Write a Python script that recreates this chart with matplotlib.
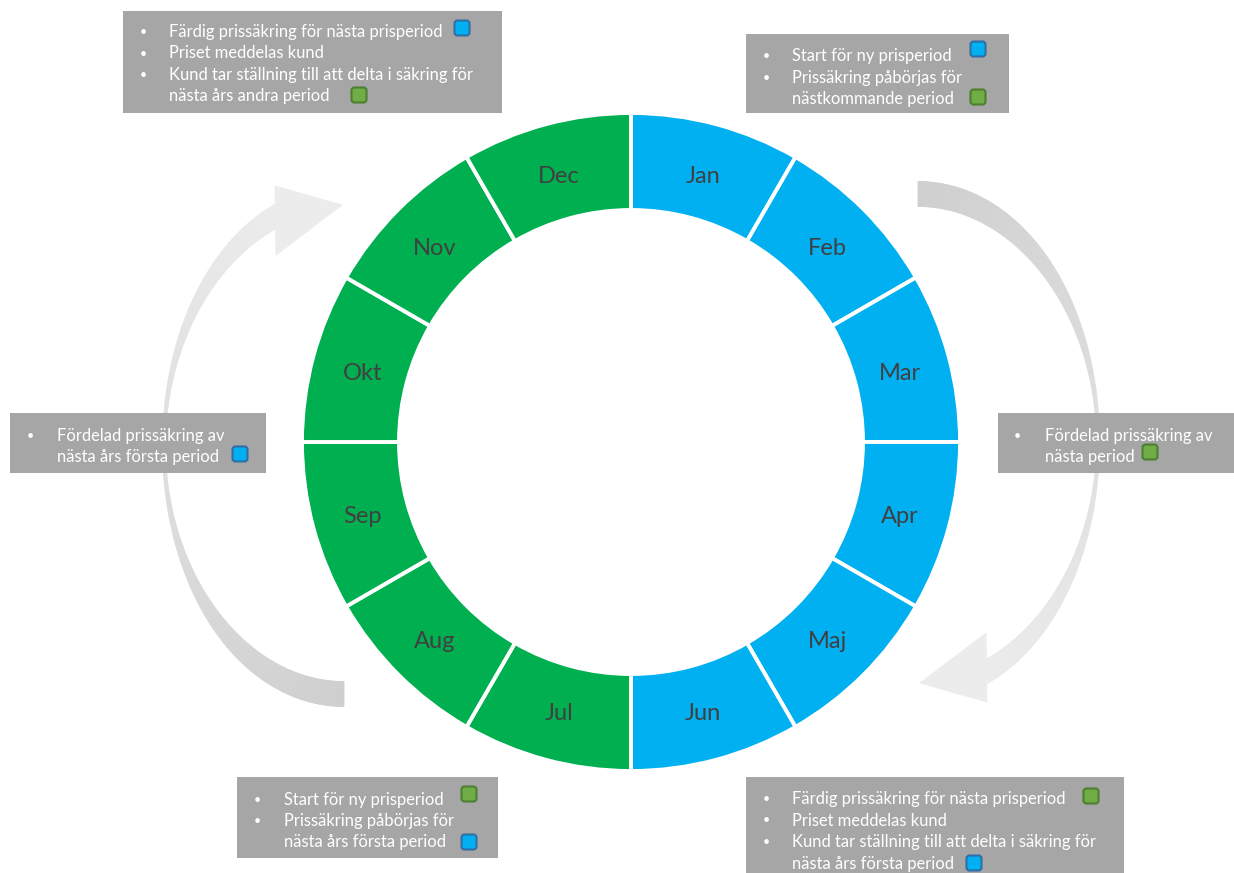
import numpy as np
import matplotlib.pyplot as plt
from matplotlib.patches import Polygon, FancyBboxPatch, Rectangle
from matplotlib.collections import PolyCollection
from matplotlib.colors import to_rgb

# Data
months = ["Jan", "Feb", "Mar", "Apr", "Maj", "Jun", "Jul", "Aug", "Sep", "Okt", "Nov", "Dec"]
month_share = [1] * 12
month_group = [0, 0, 0, 0, 0, 0, 1, 1, 1, 1, 1, 1]
group_colors = ["#00B0F0", "#00B050"]
marker_fill = ["#00B0F0", "#70AD47"]
marker_edge = ["#2F6EA8", "#4E7F30"]

text_top_left = ["Färdig prissäkring för nästa prisperiod", "Priset meddelas kund",
                 "Kund tar ställning till att delta i säkring för", "nästa års andra period"]
text_top_right = ["Start för ny prisperiod", "Prissäkring påbörjas för", "nästkommande period"]
text_right = ["Fördelad prissäkring av", "nästa period"]
text_left = ["Fördelad prissäkring av", "nästa års första period"]
text_bottom_left = ["Start för ny prisperiod", "Prissäkring påbörjas för", "nästa års första period"]
text_bottom_right = ["Färdig prissäkring för nästa prisperiod", "Priset meddelas kund",
                     "Kund tar ställning till att delta i säkring för", "nästa års första period"]

W, H = 1234, 873
FONT = "Lato"

fig = plt.figure(figsize=(W / 100, H / 100), dpi=100)
ax = fig.add_axes([0, 0, 1, 1])

# DONUT
cx, cy = 631, 442
wedges, _ = ax.pie(month_share, colors=[group_colors[g] for g in month_group],
                   startangle=-90, counterclock=True, radius=329, center=(cx, cy),
                   wedgeprops=dict(width=97, edgecolor="white", linewidth=2.8))
for w, name in zip(wedges, months):
    ang = np.deg2rad((w.theta1 + w.theta2) / 2)
    ax.text(cx + 278 * np.cos(ang), cy + 278 * np.sin(ang) + 3, name, ha="center", va="center",
            fontsize=17, color="#404040", family=FONT, zorder=5)

ax.set_xlim(0, W)
ax.set_ylim(H, 0)
ax.set_aspect("auto")
ax.axis("off")


# PILAR
def arrow_shape():
    t = np.linspace(-np.pi / 2, np.deg2rad(70), 220)
    ex, ey, a, b = 918, 442, 180, 248
    x = ex + a * np.cos(t)
    y = ey + b * np.sin(t)
    nx, ny = b * np.cos(t), a * np.sin(t)
    nn = np.hypot(nx, ny)
    nx, ny = nx / nn, ny / nn
    wid = 3 + 22 * np.sin(t) ** 2
    outer = np.column_stack([x + nx * wid / 2, y + ny * wid / 2])
    inner = np.column_stack([x - nx * wid / 2, y - ny * wid / 2])
    head = np.array([[986, 633], [920, 683], [987, 702]])
    return outer, inner, head


def draw_arrow(rot=False):
    outer, inner, head = arrow_shape()
    if rot:
        outer = np.column_stack([1262 - outer[:, 0], 888 - outer[:, 1]])
        inner = np.column_stack([1262 - inner[:, 0], 888 - inner[:, 1]])
        head = np.column_stack([1262 - head[:, 0], 888 - head[:, 1]])
    c0, c1 = np.array(to_rgb("#cfcfcf")), np.array(to_rgb("#ececec"))
    quads, cols = [], []
    n = len(outer)
    for i in range(n - 1):
        quads.append([outer[i], outer[i + 1], inner[i + 1], inner[i]])
        f = i / (n - 2)
        cols.append(c0 + (c1 - c0) * f)
    ax.add_collection(PolyCollection(quads, facecolors=cols, edgecolors=cols, linewidths=0.6, zorder=1))
    ax.add_patch(Polygon(head, closed=True, facecolor=c1, edgecolor=c1, linewidth=0.6, zorder=1))


draw_arrow(False)
draw_arrow(True)


# RUTOR
def draw_box(rect, lines, bullets, bullet_x, text_x, y0, markers, dy=21.5):
    x0, y_top, x1, y_bot = rect
    ax.add_patch(Rectangle((x0, y_top), x1 - x0, y_bot - y_top, facecolor="#A6A6A6",
                           edgecolor="none", zorder=3))
    for i, line in enumerate(lines):
        yy = y0 + i * dy + 2
        if i in bullets:
            ax.text(bullet_x, yy, "•", ha="center", va="center", fontsize=9, color="white",
                    family=FONT, zorder=4)
        ax.text(text_x, yy, line, ha="left", va="center", fontsize=11.9, color="white",
                family=FONT, zorder=4)
    for mx, my, g in markers:
        ax.add_patch(FancyBboxPatch((mx - 7.5, my - 7.5), 15, 15,
                                    boxstyle="round,pad=0,rounding_size=3",
                                    facecolor=marker_fill[g], edgecolor=marker_edge[g],
                                    linewidth=1.5, zorder=4))


draw_box((123, 11, 502, 113), text_top_left, [0, 1, 2], 143, 169, 30,
         [(462, 28, 0), (359, 95, 1)])
draw_box((746, 34, 1009, 113), text_top_right, [0, 1], 766, 792, 54,
         [(978, 49, 0), (978, 97, 1)])
draw_box((998, 413, 1240, 473), text_right, [0], 1017, 1045, 433.5,
         [(1150, 452, 1)])
draw_box((10, 413, 266, 473), text_left, [0], 30, 57, 433.5,
         [(240, 454, 0)])
draw_box((237, 777, 498, 858), text_bottom_left, [0, 1], 257, 284, 797.5,
         [(469, 794, 1), (469, 842, 0)])
draw_box((746, 777, 1124, 880), text_bottom_right, [0, 1, 2], 766, 792, 797,
         [(1091, 796, 1), (974, 863, 0)])

fig.savefig("out.png", dpi=100)
